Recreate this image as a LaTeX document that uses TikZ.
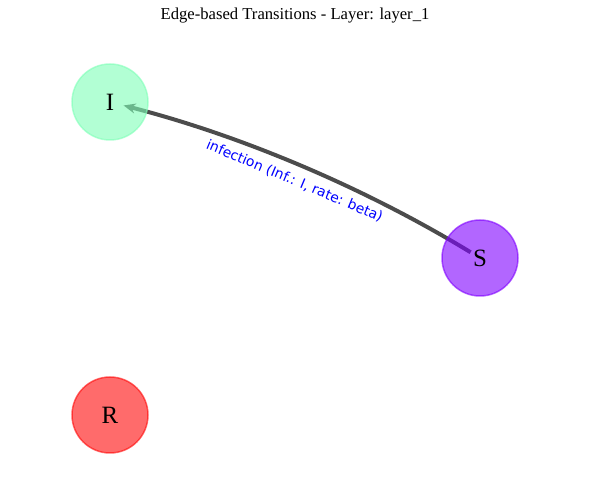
\documentclass[tikz,border=0pt]{standalone}
\usepackage{fontspec}
\setmainfont{Liberation Serif}
\newfontfamily\edgefont{DejaVu Sans}
\usetikzlibrary{arrows.meta,backgrounds}
\definecolor{icolor}{RGB}{127,255,183}
\definecolor{scolor}{RGB}{127,0,255}
\definecolor{rcolor}{RGB}{255,8,8}
\definecolor{labelblue}{RGB}{0,0,255}
\begin{document}
\begin{tikzpicture}%
	[x=1bp,
	y=1bp,
	state/.style={circle, minimum size=76bp, inner sep=0pt, line width=1.5bp, opacity=0.6, text opacity=1, font=\fontsize{25}{30}\selectfont},
	istate/.style={state, draw=icolor, fill=icolor},
	sstate/.style={state, draw=scolor, fill=scolor},
	rstate/.style={state, draw=rcolor, fill=rcolor},
	edge/.style={color=black!70, line width=4bp, -{Stealth[length=12bp,width=10bp]}, shorten <=11bp, shorten >=14bp},
	edgelabel/.style={text=labelblue, inner sep=0pt, font=\edgefont\fontsize{13.9}{16}\selectfont}]
%
\useasboundingbox (0,0) rectangle (590,490);
%%
%% Title
%%
\node[font=\fontsize{16.7}{20}\selectfont] (title) at (295,474) {Edge-based Transitions - Layer: layer\_1};
%%
%% Drawing the states
%%
\node[istate] (I) at (110,388) {I};
\node[sstate] (S) at (480,232) {S};
\node[rstate] (R) at (110,75) {R};
%%
%% Drawing the transitions in the back
%%
\begin{scope}[on background layer]
\draw[edge] (S.center) .. controls (364.5,302.4) and (241.1,354.4) .. (I.center)
	node[edgelabel, midway, sloped, below=8bp] (infection) {infection (Inf.: I, rate: beta)};
\end{scope}
\end{tikzpicture}
\end{document}
